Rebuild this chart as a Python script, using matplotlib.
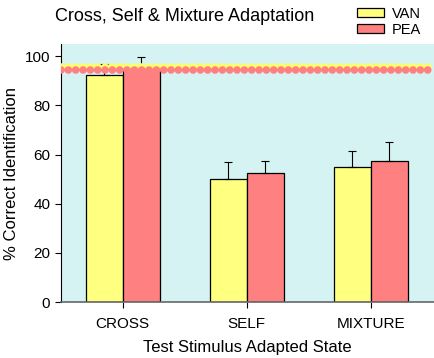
import matplotlib.pyplot as plt
import numpy as np

plt.rcParams['font.family'] = ['Liberation Sans', 'DejaVu Sans']

categories = ["CROSS", "SELF", "MIXTURE"]
van_values = [92.5, 50.0, 55.0]
van_errors = [4.5, 7.0, 6.5]
pea_values = [94.8, 52.5, 57.5]
pea_errors = [5.0, 5.0, 7.5]
van_ref = 95.6
pea_ref = 94.4

YELLOW = "#ffff80"
RED = "#ff8080"

fig = plt.figure(figsize=(4.34, 3.58), dpi=100)
ax = fig.add_axes([0.14, 0.156, 0.86, 0.721])
ax.set_facecolor("#d5f3f3")

x = np.arange(len(categories))
w = 0.3
ax.bar(x - w / 2, van_values, w, color=YELLOW, edgecolor="black", linewidth=0.9, label="VAN", zorder=2)
ax.bar(x + w / 2, pea_values, w, color=RED, edgecolor="black", linewidth=0.9, label="PEA", zorder=2)
ax.errorbar(x - w / 2, van_values, yerr=[[0] * 3, van_errors], fmt="none", ecolor="black",
            elinewidth=0.8, capsize=3, capthick=0.8, zorder=3)
ax.errorbar(x + w / 2, pea_values, yerr=[[0] * 3, pea_errors], fmt="none", ecolor="black",
            elinewidth=0.8, capsize=3, capthick=0.8, zorder=3)

# dotted reference lines (round dots)
ax.axhline(van_ref, color="#ffff60", linewidth=5.5, linestyle=(0, (0.01, 0.95)),
           dash_capstyle="round", zorder=4)
ax.axhline(pea_ref, color=RED, linewidth=5.5, linestyle=(0, (0.01, 0.95)),
           dash_capstyle="round", zorder=5)

ax.set_xlim(-0.5, 2.51)
ax.set_ylim(0, 105)
ax.set_yticks([0, 20, 40, 60, 80, 100])
ax.set_xticks(x)
ax.set_xticklabels(categories)
ax.tick_params(axis="both", labelsize=11, direction="out", length=4, width=0.8)
ax.tick_params(axis="x", pad=7)
for s in ["top", "right"]:
    ax.spines[s].set_visible(False)
ax.spines["bottom"].set_color("#666666")
ax.spines["bottom"].set_linewidth(1.2)

ax.set_ylabel("% Correct Identification", fontsize=12)
ax.set_xlabel("Test Stimulus Adapted State", fontsize=12, labelpad=6)
fig.text(0.127, 0.955, "Cross, Self & Mixture Adaptation", fontsize=13, va="center")

fig.legend(loc="upper left", bbox_to_anchor=(0.8, 1.01), frameon=False, fontsize=10.5,
           handlelength=1.85, handleheight=0.55, labelspacing=0.15, handletextpad=0.5,
           borderpad=0.2)

fig.savefig("out.png", dpi=100)
